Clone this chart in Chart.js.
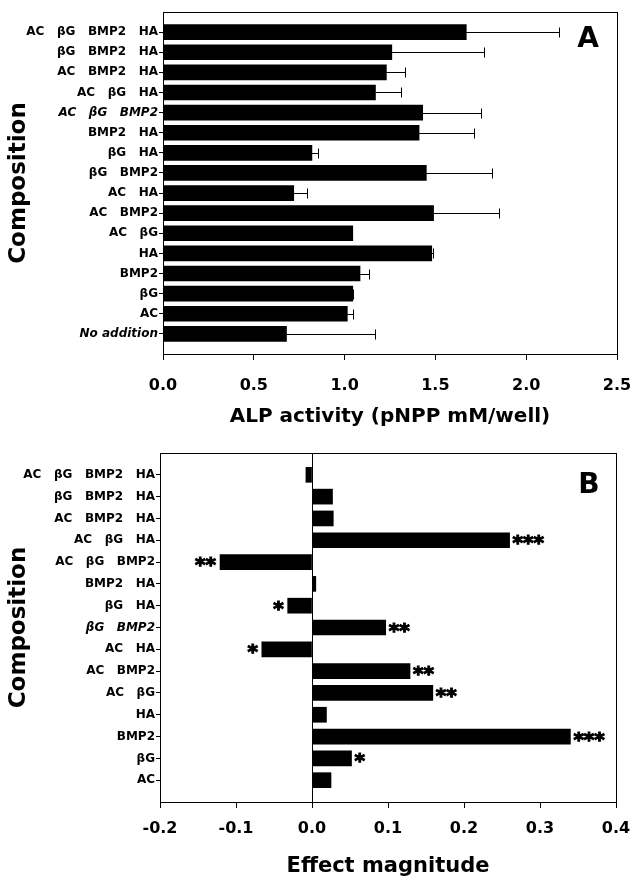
<!DOCTYPE html>
<html>
<head>
<meta charset="utf-8">
<script src="https://cdn.jsdelivr.net/npm/chart.js@4.4.0/dist/chart.umd.min.js"></script>
<style>
  html, body { margin: 0; padding: 0; background: #fff; }
  .panel { position: relative; width: 632px; }
  #panelA { height: 440px; }
  #panelB { height: 443px; }
</style>
</head>
<body>
<div class="panel" id="panelA"><canvas id="chartA"></canvas></div>
<div class="panel" id="panelB"><canvas id="chartB"></canvas></div>
<script>
// panel A - ALP activity, mean and one-sided error
const labelsA = ['AC   βG   BMP2   HA', 'βG   BMP2   HA', 'AC   BMP2   HA', 'AC   βG   HA',
  'AC   βG   BMP2', 'BMP2   HA', 'βG   HA', 'βG   BMP2', 'AC   HA', 'AC   BMP2',
  'AC   βG', 'HA', 'BMP2', 'βG', 'AC', 'No addition'];
const alpA = [1.67, 1.26, 1.23, 1.17, 1.43, 1.41, 0.82, 1.45, 0.72, 1.49, 1.045, 1.48, 1.085, 1.045, 1.015, 0.68];
const alpErrA = [0.51, 0.51, 0.105, 0.14, 0.32, 0.30, 0.035, 0.36, 0.075, 0.36, 0.0, 0.006, 0.05, 0.003, 0.034, 0.49];
const ticksA = [0, 0.5, 1.0, 1.5, 2.0, 2.5];

// panel B - effect magnitude
const labelsB = ['AC   βG   BMP2   HA', 'βG   BMP2   HA', 'AC   BMP2   HA', 'AC   βG   HA',
  'AC   βG   BMP2', 'BMP2   HA', 'βG   HA', 'βG   BMP2', 'AC   HA', 'AC   BMP2',
  'AC   βG', 'HA', 'BMP2', 'βG', 'AC'];
const effectB = [-0.008, 0.027, 0.028, 0.260, -0.121, 0.005, -0.032, 0.097, -0.066, 0.129, 0.159, 0.019, 0.340, 0.052, 0.025];
const starsB = ['', '', '', '***', '**', '', '*', '**', '*', '**', '**', '', '***', '*', ''];
const ticksB = [-0.2, -0.1, 0.0, 0.1, 0.2, 0.3, 0.4];

const FONT = '"DejaVu Sans", sans-serif';
Chart.defaults.font.family = FONT;
Chart.defaults.color = '#000';

const italicA = new Set(['AC   βG   BMP2', 'No addition']);
const italicB = new Set(['βG   BMP2']);

function fmt(v) {
  return (Math.abs(v) < 1e-9 ? 0 : v).toFixed(1);
}

// blank slot above and below the categories, like the original plots
function padded(arr, blank) {
  return [blank].concat(arr, [blank]);
}

const framePlugin = {
  id: 'frame',
  afterDatasetsDraw(chart, args, opts) {
    const {ctx, chartArea: a} = chart;
    ctx.save();
    ctx.strokeStyle = '#000';
    ctx.lineWidth = 1;
    ctx.strokeRect(Math.round(a.left) + 0.5, Math.round(a.top) + 0.5, Math.round(a.right - a.left), Math.round(a.bottom - a.top));
    ctx.fillStyle = '#000';
    ctx.font = 'bold 28px ' + FONT;
    ctx.textAlign = 'center';
    ctx.textBaseline = 'middle';
    ctx.fillText(opts.letter, a.right - opts.dx, a.top + opts.dy);
    ctx.restore();
  }
};

const errorBarPlugin = {
  id: 'errorBars',
  afterDatasetsDraw(chart, args, opts) {
    if (!opts.errors) return;
    const {ctx} = chart;
    const xs = chart.scales.x;
    const meta = chart.getDatasetMeta(0);
    ctx.save();
    ctx.strokeStyle = '#000';
    ctx.lineWidth = 1;
    opts.values.forEach((v, i) => {
      const bar = meta.data[i + 1];
      const err = opts.errors[i];
      if (!bar || err <= 0) return;
      const x0 = xs.getPixelForValue(v);
      const x1 = Math.round(xs.getPixelForValue(v + err)) + 0.5;
      const y = Math.round(bar.y) + 0.5;
      ctx.beginPath();
      ctx.moveTo(x0, y);
      ctx.lineTo(x1, y);
      ctx.moveTo(x1, y - 5);
      ctx.lineTo(x1, y + 5);
      ctx.stroke();
    });
    ctx.restore();
  }
};

const starPlugin = {
  id: 'stars',
  afterDatasetsDraw(chart, args, opts) {
    if (!opts.marks) return;
    const {ctx} = chart;
    const xs = chart.scales.x;
    const meta = chart.getDatasetMeta(0);
    ctx.save();
    ctx.fillStyle = '#000';
    ctx.strokeStyle = '#000';
    ctx.lineWidth = 1.2;
    ctx.font = 'bold 20px ' + FONT;
    ctx.textBaseline = 'alphabetic';
    opts.values.forEach((v, i) => {
      const s = opts.marks[i];
      const bar = meta.data[i + 1];
      if (!s || !bar) return;
      const x = xs.getPixelForValue(v);
      const y = bar.y + 9;
      if (v >= 0) {
        ctx.textAlign = 'left';
        ctx.fillText(s, x + 3, y);
        ctx.strokeText(s, x + 3, y);
      } else {
        ctx.textAlign = 'right';
        ctx.fillText(s, x - 4, y);
        ctx.strokeText(s, x - 4, y);
      }
    });
    ctx.restore();
  }
};

function compositionAxis(width, italics) {
  return {
    type: 'category',
    offset: false,
    afterFit: s => {
      s.width = width;
      s.paddingTop = 0;
      s.paddingBottom = 0;
    },
    grid: {
      offset: false,
      drawOnChartArea: false,
      tickLength: 4,
      tickColor: c => (c.tick && c.tick.label === '') ? 'rgba(0,0,0,0)' : '#000'
    },
    border: { color: '#000', width: 1 },
    ticks: {
      autoSkip: false,
      padding: 1,
      color: '#000',
      font: c => ({
        family: FONT, size: 12, weight: 'bold',
        style: (c.tick && italics.has(c.tick.label)) ? 'italic' : 'normal'
      })
    },
    title: {
      display: true, text: 'Composition', color: '#000',
      font: { family: FONT, size: 23, weight: 'bold' },
      padding: { top: 5, bottom: 0 }
    }
  };
}

function valueAxis(ticks, height, tickPad, title, titleSize, titlePad, zeroLine) {
  return {
    type: 'linear',
    min: ticks[0],
    max: ticks[ticks.length - 1],
    afterFit: s => {
      s.height = height;
      s.paddingLeft = 0;
      s.paddingRight = 0;
    },
    afterBuildTicks: s => { s.ticks = ticks.map(v => ({ value: v })); },
    grid: {
      drawOnChartArea: zeroLine,
      tickLength: 6,
      tickColor: '#000',
      color: c => (zeroLine && c.tick && Math.abs(c.tick.value) < 1e-9) ? '#000' : 'rgba(0,0,0,0)'
    },
    border: { color: '#000', width: 1 },
    ticks: {
      padding: tickPad,
      color: '#000',
      font: { family: FONT, size: 16, weight: 'bold' },
      callback: v => fmt(v)
    },
    title: {
      display: true, text: title, color: '#000',
      font: { family: FONT, size: titleSize, weight: 'bold' },
      padding: { top: 0, bottom: titlePad }
    }
  };
}

function makeChart(canvasId, labels, values, cfg) {
  return new Chart(document.getElementById(canvasId), {
    type: 'bar',
    data: {
      labels: padded(labels, ''),
      datasets: [{
        data: padded(values, null),
        backgroundColor: '#000',
        borderWidth: 0,
        barThickness: 15
      }]
    },
    options: {
      indexAxis: 'y',
      responsive: true,
      maintainAspectRatio: false,
      animation: false,
      devicePixelRatio: 1,
      layout: { padding: cfg.padding },
      scales: {
        x: cfg.x,
        y: cfg.y
      },
      plugins: {
        legend: { display: false },
        tooltip: { enabled: false },
        frame: cfg.frame,
        errorBars: { values: values, errors: cfg.errors },
        stars: { values: values, marks: cfg.marks }
      }
    },
    plugins: [framePlugin, errorBarPlugin, starPlugin]
  });
}

var chartA = makeChart('chartA', labelsA, alpA, {
  padding: { top: 12, right: 15, left: 0, bottom: 0 },
  x: valueAxis(ticksA, 86, 16, 'ALP activity (pNPP mM/well)', 20, 11, false),
  y: compositionAxis(163, italicA),
  frame: { letter: 'A', dx: 29, dy: 28 },
  errors: alpErrA,
  marks: null
});

var chartB = makeChart('chartB', labelsB, effectB, {
  padding: { top: 13, right: 16, left: 0, bottom: 0 },
  x: valueAxis(ticksB, 81, 11, 'Effect magnitude', 21, 4, true),
  y: compositionAxis(160, italicB),
  frame: { letter: 'B', dx: 27, dy: 33 },
  errors: null,
  marks: starsB
});
</script>
</body>
</html>
